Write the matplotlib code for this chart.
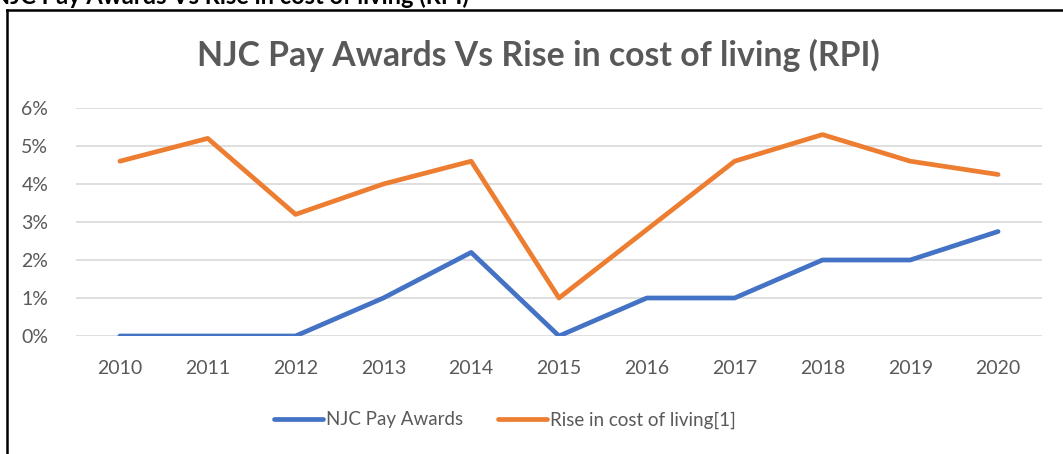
import matplotlib
matplotlib.use("Agg")
import matplotlib.pyplot as plt
from matplotlib.lines import Line2D
from matplotlib.ticker import FuncFormatter

years = ["2010", "2011", "2012", "2013", "2014", "2015", "2016", "2017", "2018", "2019", "2020"]
njc_pay = [0.0, 0.0, 0.0, 1.0, 2.2, 0.0, 1.0, 1.0, 2.0, 2.0, 2.75]
rpi = [4.6, 5.2, 3.2, 4.0, 4.6, 1.0, 2.8, 4.6, 5.3, 4.6, 4.25]
series_names = ["NJC Pay Awards", "Rise in cost of living[1]"]
title = "NJC Pay Awards Vs Rise in cost of living (RPI)"

plt.rcParams['font.family'] = ['Lato', 'DejaVu Sans']
TXT = '#595959'

W, H = 1063, 454
fig = plt.figure(figsize=(W / 100, H / 100), dpi=100)
ax = fig.add_axes([76 / W, 1 - 336 / H, (1042 - 76) / W, (336 - 108) / H])

x = list(range(len(years)))
ax.plot(x, [v / 100 for v in njc_pay], color='#4472C4', lw=3.4, solid_capstyle='round',
        solid_joinstyle='round', label=series_names[0])
ax.plot(x, [v / 100 for v in rpi], color='#ED7D31', lw=3.4, solid_capstyle='round',
        solid_joinstyle='round', label=series_names[1])

ax.set_xlim(-0.5, len(years) - 0.5)
ax.set_ylim(0, 0.06)
ax.set_yticks([i / 100 for i in range(7)])
ax.yaxis.set_major_formatter(FuncFormatter(lambda v, p: f"{round(v * 100)}%"))
ax.set_xticks(x)
ax.set_xticklabels(years)
ax.grid(axis='y', color='#D9D9D9', lw=1.2)
ax.set_axisbelow(True)
for s in ax.spines.values():
    s.set_visible(False)
ax.tick_params(length=0, labelsize=14, colors=TXT)
ax.tick_params(axis='x', pad=17)
ax.tick_params(axis='y', pad=20)

fig.text(538 / W, 1 - 55 / H, title, ha='center', va='center', fontsize=24.3,
         fontweight='bold', color=TXT)

leg = fig.legend(loc='center', bbox_to_anchor=(505 / W, 1 - 420 / H), ncol=2, frameon=False,
                 fontsize=13.5, labelcolor=TXT, handlelength=2.6, handletextpad=0.15,
                 columnspacing=1.9)

# chart border (left and top) and cropped heading above it
fig.add_artist(Line2D([7 / W, 7 / W], [0, 1 - 10 / H], color='black', lw=1.8))
fig.add_artist(Line2D([7 / W, 1], [1 - 10 / H, 1 - 10 / H], color='black', lw=1.8))
fig.text(-8 / W, 1 - 4 / H, title, ha='left', va='baseline', fontsize=17,
         fontweight='bold', color='black')

fig.savefig("out.png", dpi=100, facecolor='white')
